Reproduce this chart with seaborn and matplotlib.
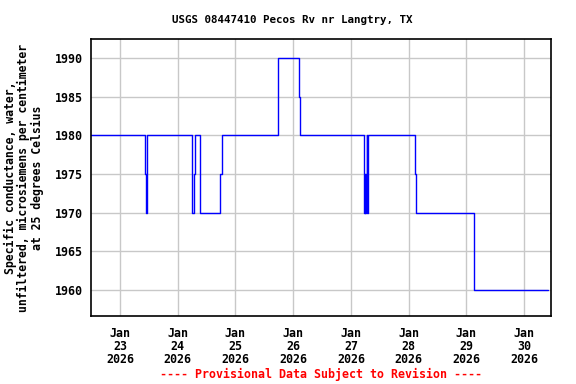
import pandas as pd
import matplotlib
matplotlib.use('Agg')
import matplotlib.pyplot as plt
import seaborn as sns

# Change points of the step series (time, value in uS/cm)
change_times = [
    '2026-01-22 12:00', '2026-01-23 10:15', '2026-01-23 10:45', '2026-01-23 11:15',
    '2026-01-24 06:00', '2026-01-24 06:45', '2026-01-24 07:15', '2026-01-24 09:15',
    '2026-01-24 17:45', '2026-01-24 18:30', '2026-01-25 17:30', '2026-01-26 02:30',
    '2026-01-26 03:00', '2026-01-27 05:15', '2026-01-27 05:30', '2026-01-27 05:45',
    '2026-01-27 06:00', '2026-01-27 06:15', '2026-01-27 06:30', '2026-01-27 06:45',
    '2026-01-27 07:15', '2026-01-28 02:45', '2026-01-28 03:15', '2026-01-29 03:00',
    '2026-01-29 03:15', '2026-01-30 09:45',
]
change_values = [
    1980, 1975, 1970, 1980,
    1970, 1975, 1980, 1970,
    1975, 1980, 1990, 1985,
    1980, 1975, 1970, 1975,
    1970, 1975, 1980, 1970,
    1980, 1975, 1970, 1965,
    1960, 1960,
]

tick_days = ['2026-01-23', '2026-01-24', '2026-01-25', '2026-01-26',
             '2026-01-27', '2026-01-28', '2026-01-29', '2026-01-30']
tick_labels = ['Jan\n23\n2026', 'Jan\n24\n2026', 'Jan\n25\n2026', 'Jan\n26\n2026',
               'Jan\n27\n2026', 'Jan\n28\n2026', 'Jan\n29\n2026', 'Jan\n30\n2026']
y_ticks = [1960, 1965, 1970, 1975, 1980, 1985, 1990]

df = pd.DataFrame({'time': pd.to_datetime(change_times), 'value': change_values})

sns.set_style('white')
plt.rcParams['font.family'] = ['DejaVu Sans Mono']
plt.rcParams['text.color'] = 'black'
plt.rcParams['axes.labelcolor'] = 'black'
plt.rcParams['xtick.color'] = 'black'
plt.rcParams['ytick.color'] = 'black'

fig = plt.figure(figsize=(5.76, 3.84), dpi=100)
ax = fig.add_axes([0.158, 0.177, 0.799, 0.721])

sns.lineplot(data=df, x='time', y='value', ax=ax, estimator=None,
             drawstyle='steps-post', color='#0000ff', linewidth=1.0)

ax.set_xlim(pd.Timestamp('2026-01-22 12:00'), pd.Timestamp('2026-01-30 11:15'))
ax.set_ylim(1956.6, 1992.45)
ax.set_xticks(pd.to_datetime(tick_days))
ax.set_xticklabels(tick_labels, fontsize=8.4, fontweight='bold', linespacing=1.0)
ax.set_yticks(y_ticks)
ax.set_yticklabels([str(v) for v in y_ticks], fontsize=8.4, fontweight='bold')
ax.grid(True, color='#c8c8c8', linewidth=1.0)
ax.tick_params(axis='both', length=3, width=0.8, color='black', pad=3, direction='out')
ax.tick_params(axis='x', length=0, pad=8)
for s in ax.spines.values():
    s.set_color('black')
    s.set_linewidth(1.2)

ax.set_xlabel('')
ax.set_ylabel('Specific conductance, water,\nunfiltered, microsiemens per centimeter\nat 25 degrees Celsius',
              fontsize=8.3, fontweight='bold', linespacing=1.0, labelpad=8)

fig.text(0.508, 0.948, 'USGS 08447410 Pecos Rv nr Langtry, TX', fontsize=7.8,
         fontweight='bold', ha='center', va='center')
fig.text(0.557, 0.015, '---- Provisional Data Subject to Revision ----',
         color='red', fontsize=8.4, fontweight='bold', ha='center')

fig.savefig('out.png', dpi=100)
